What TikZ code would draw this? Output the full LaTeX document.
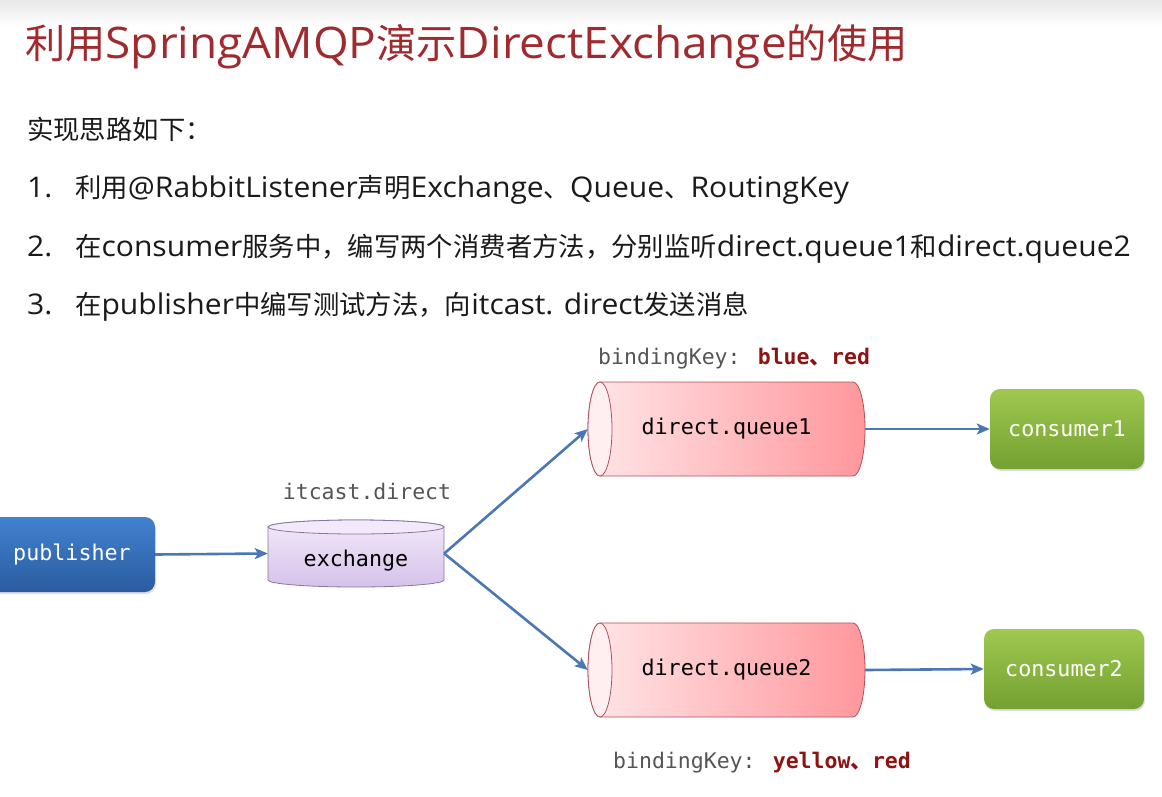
\documentclass[tikz,border=0pt]{standalone}
\usepackage{fontspec}
\setmainfont[FakeStretch=1.055]{Open Sans}
\newfontfamily\mono{DejaVu Sans Mono}
\newfontfamily\cjk[Scale=0.925]{Noto Sans CJK SC}
\newfontfamily\cjkmono{Noto Sans CJK SC}
\usetikzlibrary{arrows.meta,shadows}
\definecolor{titlered}{HTML}{A02A2E}
\definecolor{keyred}{HTML}{8E1414}
\definecolor{arrowblue}{HTML}{4B78B4}
\definecolor{txtgray}{HTML}{555555}
\definecolor{bodytxt}{HTML}{1A1A1A}
\definecolor{pubtop}{HTML}{4282CF}
\definecolor{pubbot}{HTML}{2A5C9F}
\definecolor{contop}{HTML}{9FC84F}
\definecolor{conbot}{HTML}{74A032}
\definecolor{qleft}{HTML}{FFE6E8}
\definecolor{qright}{HTML}{FF979C}
\definecolor{qend}{HTML}{FFEFF1}
\definecolor{qline}{HTML}{B05058}
\definecolor{extop}{HTML}{F2E9FA}
\definecolor{exbot}{HTML}{D6C2EA}
\definecolor{exline}{HTML}{85789A}
\tikzset{
  box/.style={rounded corners=10pt, inner sep=0pt, text=white, font=\mono\fontsize{21.7}{26}\selectfont,
    drop shadow={opacity=0.25, shadow xshift=1pt, shadow yshift=-2pt}},
  pubbox/.style={box, top color=pubtop, bottom color=pubbot, minimum width=166pt, minimum height=75pt},
  conbox/.style={box, top color=contop, bottom color=conbot, minimum height=80pt},
  hold/.style={inner sep=0pt, font=\mono\fontsize{21.7}{26}\selectfont, text=black},
  flow/.style={draw=arrowblue, line width=2.6pt, -{Stealth[length=13pt,width=11pt,inset=3pt]}},
  keylbl/.style={font=\mono\fontsize{21.5}{26}\selectfont, text=txtgray, inner sep=0pt},
  bodyline/.style={anchor=base west, inner sep=0pt, text=bodytxt, font=\fontsize{28.5}{30}\selectfont},
}
\newcommand{\hcyl}[4]{% center x, center y, name, text
  \shade[left color=qleft, right color=qright, draw=qline, line width=0.8pt]
    (#1-126.5,#2-47) -- (#1+126.5,#2-47)
    arc[start angle=-90,end angle=90,x radius=12,y radius=47]
    -- (#1-126.5,#2+47)
    arc[start angle=90,end angle=270,x radius=12,y radius=47] -- cycle;
  \draw[fill=qend, draw=qline, line width=0.8pt] (#1-126.5,#2) ellipse[x radius=12,y radius=47];
  \node[hold, minimum width=277pt, minimum height=94pt] (#3) at (#1,#2) {#4};
}
\begin{document}
\begin{tikzpicture}[x=1pt,y=-1pt]
\useasboundingbox (0,0) rectangle (1162,796);
\fill[white] (0,0) rectangle (1162,796);
\shade[top color=black!9, bottom color=white] (0,0) rectangle (1162,26);
% title and text
\node[anchor=base west, inner sep=0pt, text=titlered, font=\fontsize{43.5}{48}\selectfont] (title) at (25,58) {{\cjk 利用}SpringAMQP{\cjk 演示}DirectExchange{\cjk 的使用}};
\node[bodyline] (intro) at (27,139) {{\cjk 实现思路如下：}};
\node[bodyline] (n1) at (27,197) {1.};
\node[bodyline] (t1) at (75,197) {{\cjk 利用}@RabbitListener{\cjk 声明}Exchange{\cjk 、}Queue{\cjk 、}RoutingKey};
\node[bodyline] (n2) at (27,256) {2.};
\node[bodyline] (t2) at (75,256) {{\cjk 在}consumer{\cjk 服务中，编写两个消费者方法，分别监听}direct.queue1{\cjk 和}direct.queue2};
\node[bodyline] (n3) at (27,314) {3.};
\node[bodyline] (t3) at (75,314) {{\cjk 在}publisher{\cjk 中编写测试方法，向}itcast. direct{\cjk 发送消息}};
% publisher
\node[pubbox] (pub) at (72,554.5) {publisher};
% exchange cylinder
\shade[top color=extop, bottom color=exbot, draw=exline, line width=0.8pt]
  (268,527) -- (268,580) arc[start angle=180,end angle=0,x radius=88,y radius=7]
  -- (444,527) arc[start angle=0,end angle=-180,x radius=88,y radius=7] -- cycle;
\draw[fill=extop, draw=exline, line width=0.8pt] (356,527) ellipse[x radius=88,y radius=7];
\node[hold, minimum width=176pt, minimum height=67pt] (ex) at (356,553.5) {};
\node[hold] (extxt) at (356,561) {exchange};
\node[keylbl] (exlbl) at (367,491) {itcast.direct};
% queues
\hcyl{726.5}{429}{q1}{direct.queue1}
\hcyl{726.5}{670}{q2}{direct.queue2}
\node[keylbl, anchor=west] (k1) at (598,359) {bindingKey: {\color{keyred}\bfseries blue{\cjkmono 、}red}};
\node[keylbl, anchor=west] (k2) at (613,763) {bindingKey: {\color{keyred}\bfseries yellow{\cjkmono 、}red}};
% consumers
\node[conbox, minimum width=154pt] (c1) at (1067,429) {consumer1};
\node[conbox, minimum width=160pt] (c2) at (1064,669) {consumer2};
% arrows
\draw[flow] (pub.east) -- (ex.west);
\draw[flow] (ex.east) -- (q1.west);
\draw[flow] (ex.east) -- (q2.west);
\draw[flow] (q1.east) -- (c1.west);
\draw[flow] (q2.east) -- (c2.west);
\end{tikzpicture}
\end{document}
